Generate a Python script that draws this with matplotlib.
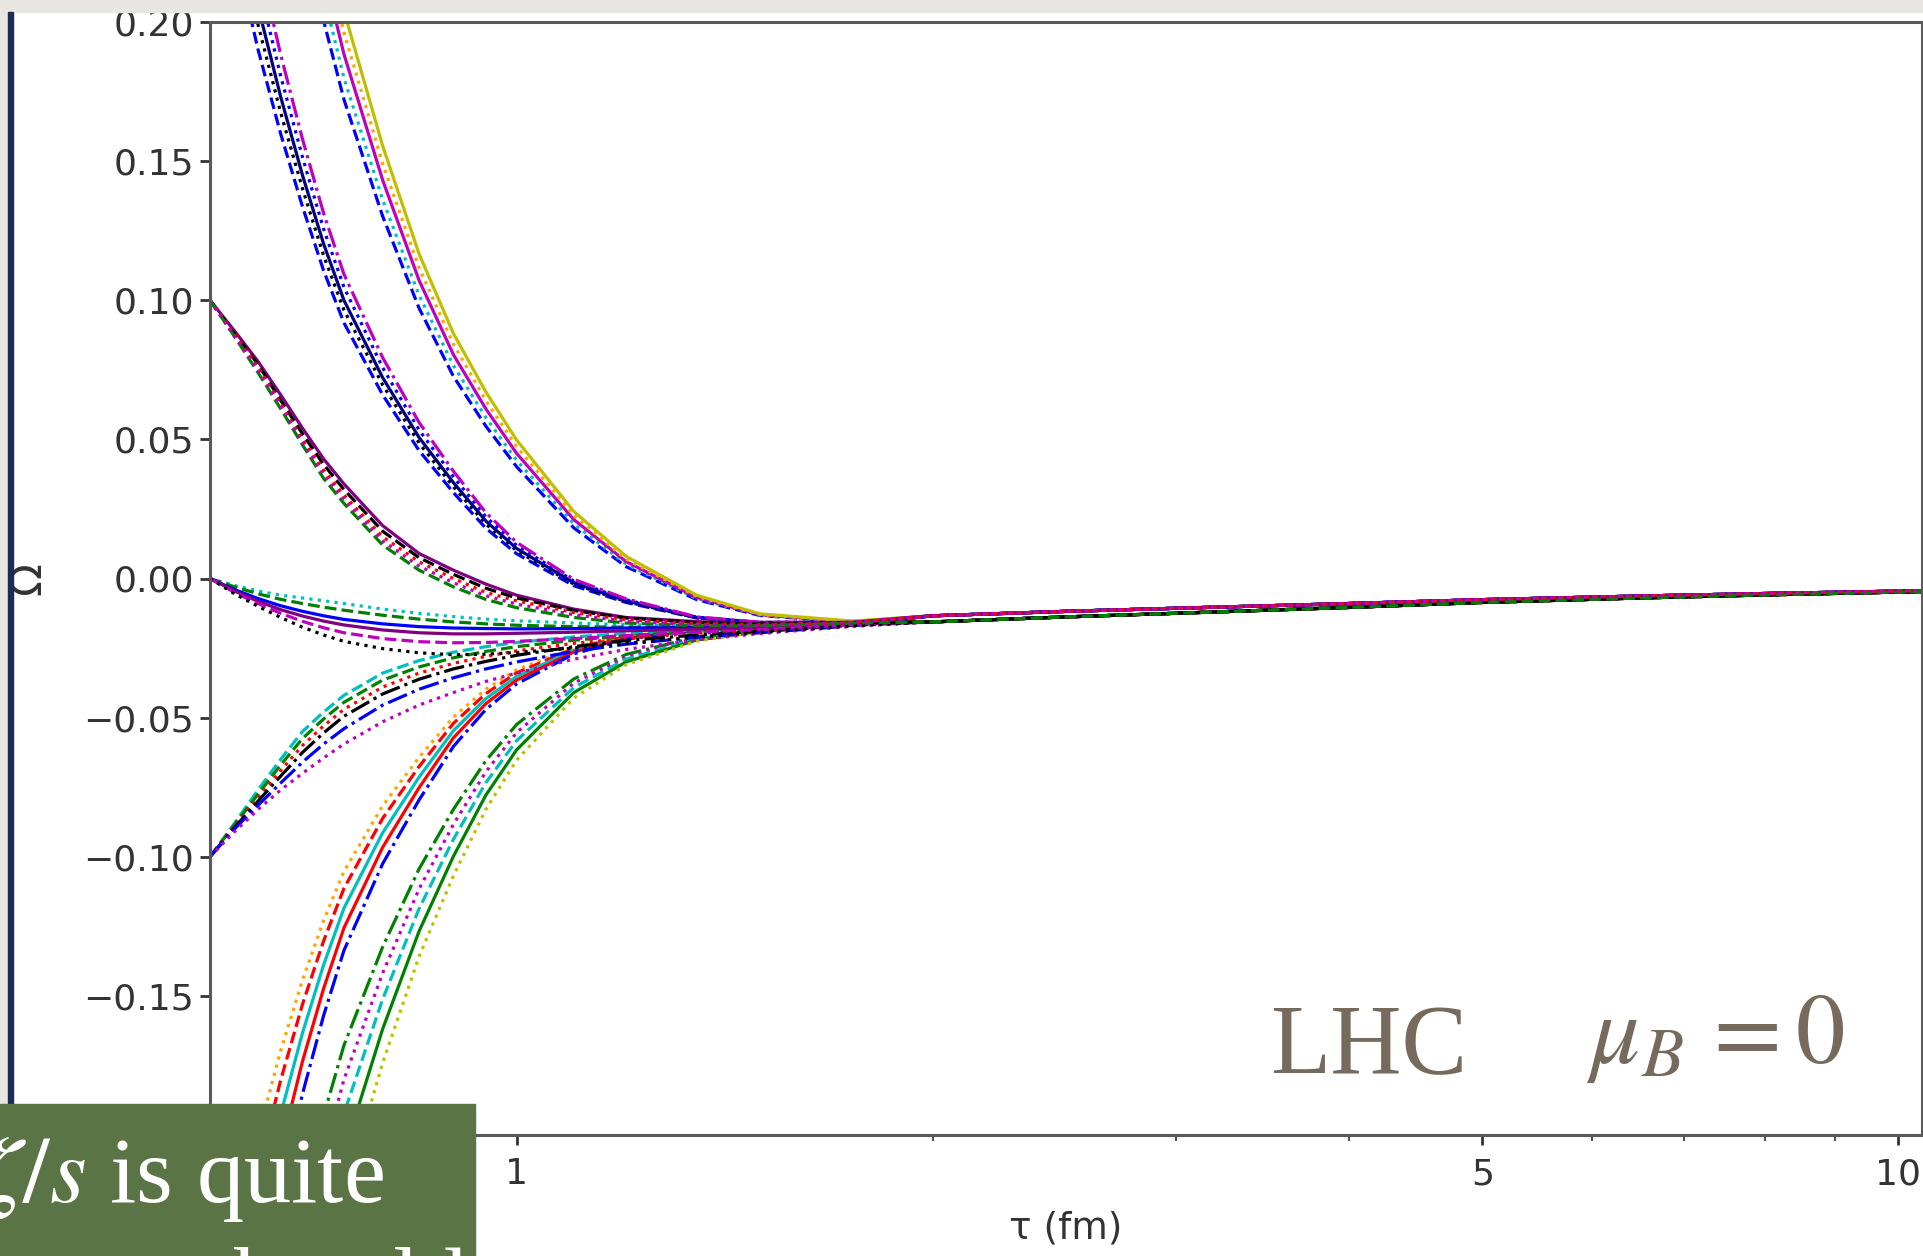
import numpy as np
import matplotlib.pyplot as plt
from matplotlib.patches import Rectangle
from matplotlib.ticker import NullFormatter

plt.rcParams['mathtext.fontset'] = 'stix'

# proper time grid (fm) and the late-time attractor (upper / lower edge of the bundle)
tau_early = [0.60, 0.625, 0.65, 0.675, 0.70, 0.725, 0.75, 0.80, 0.85, 0.90, 0.95, 1.00, 1.10, 1.20, 1.35, 1.50, 1.75]
tau_tail = [2.0, 2.5, 3.0, 4.0, 5.0, 6.5, 8.0, 10.4]
omega_tail_hi = [-0.0134, -0.0118, -0.0107, -0.0090, -0.0076, -0.0063, -0.0054, -0.0044]
omega_tail_lo = [-0.0156, -0.0138, -0.0125, -0.0104, -0.0086, -0.0070, -0.0059, -0.0047]

# start at Omega = 0.10
a_curves = [
    [0.100, 0.089, 0.078, 0.066, 0.054, 0.043, 0.034, 0.019, 0.009, 0.003, -0.002, -0.006, -0.011, -0.014, -0.0155, -0.0162, -0.0157],
    [0.100, 0.088, 0.077, 0.064, 0.052, 0.041, 0.032, 0.017, 0.0075, 0.0015, -0.0035, -0.007, -0.0115, -0.0142, -0.0158, -0.0164, -0.0158],
    [0.100, 0.088, 0.076, 0.063, 0.050, 0.039, 0.030, 0.015, 0.006, 0.000, -0.005, -0.008, -0.0122, -0.0148, -0.0162, -0.0166, -0.0158],
    [0.100, 0.087, 0.074, 0.061, 0.048, 0.036, 0.027, 0.012, 0.003, -0.003, -0.0075, -0.0105, -0.014, -0.016, -0.0170, -0.0170, -0.0160],
    [0.100, 0.087, 0.075, 0.062, 0.049, 0.0375, 0.0285, 0.0135, 0.0045, -0.0015, -0.0062, -0.0092, -0.013, -0.0154, -0.0166, -0.0168, -0.0159],
]
# large positive start, left bundle
b_curves = [
    [0.2694, 0.2268, 0.1901, 0.1598, 0.1336, 0.1107, 0.0919, 0.0660, 0.0460, 0.0309, 0.0181, 0.0089, -0.0026, -0.0086, -0.0142, -0.0159, -0.0158],
    [0.2818, 0.2373, 0.1990, 0.1674, 0.1401, 0.1161, 0.0965, 0.0696, 0.0487, 0.033, 0.0196, 0.010, -0.002, -0.0083, -0.0141, -0.0158, -0.0157],
    [0.2910, 0.2452, 0.2056, 0.1731, 0.1449, 0.1203, 0.1000, 0.0722, 0.0507, 0.0345, 0.0207, 0.0108, -0.0015, -0.008, -0.014, -0.0158, -0.0157],
    [0.3033, 0.2558, 0.2145, 0.1806, 0.1514, 0.1257, 0.1047, 0.0758, 0.0534, 0.0366, 0.0222, 0.0119, -0.0009, -0.0076, -0.0139, -0.0158, -0.0157],
    [0.3156, 0.2662, 0.2234, 0.1883, 0.1579, 0.1313, 0.1094, 0.0794, 0.0561, 0.0386, 0.0237, 0.013, -0.0003, -0.0073, -0.0138, -0.0157, -0.0157],
]
# large positive start, right bundle
c_curves = [
    [0.4147, 0.3597, 0.3112, 0.2692, 0.2320, 0.2005, 0.1722, 0.1302, 0.0972, 0.0727, 0.0548, 0.0402, 0.0182, 0.0043, -0.0076, -0.0133, -0.0156],
    [0.4328, 0.3760, 0.3253, 0.2814, 0.2427, 0.2100, 0.1799, 0.1361, 0.1018, 0.0766, 0.0579, 0.0425, 0.0196, 0.0052, -0.0072, -0.0132, -0.0155],
    [0.4517, 0.3915, 0.3390, 0.2935, 0.2530, 0.2186, 0.1885, 0.1432, 0.1072, 0.0805, 0.0610, 0.0450, 0.0212, 0.0061, -0.0068, -0.0130, -0.0155],
    [0.4698, 0.4078, 0.3528, 0.3055, 0.2638, 0.2281, 0.1963, 0.1491, 0.1117, 0.0843, 0.0640, 0.0474, 0.0226, 0.0070, -0.0064, -0.0129, -0.0154],
    [0.4878, 0.4242, 0.3674, 0.3175, 0.2745, 0.2376, 0.2040, 0.1555, 0.1167, 0.0881, 0.0671, 0.0498, 0.0241, 0.0080, -0.0060, -0.0127, -0.0153],
]
# start at Omega = 0
d_curves = [
    [0.0, -0.0025, -0.0045, -0.006, -0.007, -0.008, -0.009, -0.011, -0.0125, -0.0137, -0.0146, -0.0152, -0.0160, -0.0166, -0.0170, -0.0170, -0.0162],
    [0.0, -0.003, -0.0055, -0.0075, -0.009, -0.0103, -0.0114, -0.0132, -0.0146, -0.0156, -0.0163, -0.0168, -0.0173, -0.0175, -0.0175, -0.0172, -0.0162],
    [0.0, -0.004, -0.0072, -0.0098, -0.0118, -0.0134, -0.0147, -0.0163, -0.0173, -0.0178, -0.018, -0.0181, -0.018, -0.0178, -0.0176, -0.0173, -0.0162],
    [0.0, -0.0045, -0.0082, -0.0112, -0.0135, -0.0153, -0.0167, -0.0185, -0.0195, -0.0199, -0.0199, -0.0197, -0.0193, -0.0188, -0.0182, -0.0177, -0.0164],
    [0.0, -0.005, -0.009, -0.0125, -0.0154, -0.0177, -0.0195, -0.0216, -0.0227, -0.0231, -0.0230, -0.0226, -0.0216, -0.0205, -0.0193, -0.0184, -0.0166],
    [0.0, -0.0055, -0.010, -0.014, -0.0175, -0.0203, -0.0226, -0.0252, -0.0267, -0.0274, -0.0272, -0.0266, -0.025, -0.0233, -0.021, -0.0193, -0.0170],
]
# start at Omega = -0.10
e_curves = [
    [-0.100, -0.088, -0.076, -0.065, -0.055, -0.048, -0.042, -0.034, -0.0295, -0.0265, -0.0245, -0.023, -0.021, -0.0197, -0.0185, -0.0178, -0.0163],
    [-0.100, -0.0885, -0.0775, -0.067, -0.0575, -0.0505, -0.0445, -0.0365, -0.0318, -0.0285, -0.0262, -0.0245, -0.0222, -0.0206, -0.0191, -0.0182, -0.0165],
    [-0.100, -0.089, -0.079, -0.069, -0.060, -0.053, -0.047, -0.039, -0.034, -0.0305, -0.028, -0.026, -0.0233, -0.0215, -0.0197, -0.0186, -0.0167],
    [-0.100, -0.0895, -0.080, -0.071, -0.0625, -0.0555, -0.0495, -0.0415, -0.0362, -0.0325, -0.0298, -0.0276, -0.0245, -0.0223, -0.0203, -0.019, -0.0168],
    [-0.100, -0.090, -0.0815, -0.0735, -0.066, -0.0595, -0.054, -0.0455, -0.0398, -0.0357, -0.0325, -0.030, -0.0262, -0.0236, -0.0211, -0.0195, -0.0170],
    [-0.100, -0.091, -0.083, -0.076, -0.070, -0.0645, -0.0595, -0.0515, -0.0455, -0.041, -0.037, -0.034, -0.029, -0.0255, -0.022, -0.0198, -0.0172],
]
# large negative start, left bundle
fl_curves = [
    [-0.2807, -0.2371, -0.2002, -0.1697, -0.1443, -0.1230, -0.1053, -0.0817, -0.0643, -0.0498, -0.0398, -0.0328, -0.0247, -0.0207, -0.0182, -0.0174, -0.0160],
    [-0.2987, -0.2519, -0.2128, -0.1803, -0.1530, -0.1303, -0.1114, -0.0862, -0.0676, -0.0521, -0.0414, -0.0339, -0.0252, -0.0209, -0.0183, -0.0175, -0.0160],
    [-0.3203, -0.2699, -0.2276, -0.1925, -0.1633, -0.1389, -0.1185, -0.0914, -0.0714, -0.0547, -0.0432, -0.0352, -0.0258, -0.0212, -0.0184, -0.0175, -0.0160],
    [-0.3419, -0.2879, -0.2420, -0.2051, -0.1735, -0.1474, -0.1256, -0.0966, -0.0752, -0.0573, -0.045, -0.0365, -0.0264, -0.0215, -0.0185, -0.0175, -0.0160],
    [-0.3662, -0.3077, -0.2591, -0.2186, -0.1852, -0.1571, -0.1337, -0.1025, -0.0796, -0.0604, -0.0471, -0.0379, -0.0271, -0.0218, -0.0186, -0.0176, -0.0160],
]
# large negative start, right bundle
fr_curves = [
    [-0.3995, -0.3446, -0.2969, -0.2573, -0.2226, -0.1931, -0.1678, -0.1324, -0.1044, -0.083, -0.0655, -0.0525, -0.0361, -0.0273, -0.021, -0.0186, -0.0161],
    [-0.4301, -0.3707, -0.3203, -0.2762, -0.2393, -0.2074, -0.1801, -0.1418, -0.1116, -0.0884, -0.0695, -0.0554, -0.0376, -0.0282, -0.0214, -0.0188, -0.0162],
    [-0.4616, -0.3977, -0.3428, -0.2960, -0.2560, -0.2218, -0.1923, -0.1512, -0.1187, -0.0938, -0.0734, -0.0583, -0.0392, -0.029, -0.0217, -0.0189, -0.0162],
    [-0.4976, -0.4283, -0.3689, -0.3185, -0.2751, -0.2381, -0.2064, -0.1619, -0.1268, -0.0999, -0.0779, -0.0616, -0.041, -0.030, -0.0221, -0.0191, -0.0163],
    [-0.5372, -0.4625, -0.3982, -0.3437, -0.2967, -0.2566, -0.2221, -0.1741, -0.1359, -0.1069, -0.083, -0.0653, -0.043, -0.031, -0.0225, -0.0192, -0.0164],
]

a_styles = [("purple", "-"), ("k", "--"), ("r", ":"), ("g", "--"), ("m", ":")]
b_styles = [("b", "--"), ("k", ":"), ("navy", "-"), ("b", ":"), ("m", "-.")]
c_styles = [("b", "--"), ("c", ":"), ("m", "-"), ("orange", ":"), ("y", "-")]
d_styles = [("c", ":"), ("g", "--"), ("b", "-"), ("purple", "-"), ("m", "--"), ("k", ":")]
e_styles = [("c", "--"), ("g", "--"), ("r", ":"), ("k", "-."), ("b", "-."), ("m", ":")]
fl_styles = [("orange", ":"), ("r", "--"), ("c", "-"), ("r", "-"), ("b", "-.")]
fr_styles = [("g", "-."), ("m", ":"), ("c", "--"), ("g", "-"), ("y", ":")]

W, H = 1924, 1256
fig = plt.figure(figsize=(W / 100, H / 100), dpi=100)
fig.patch.set_facecolor("white")
ax = fig.add_axes([210 / W, 121 / H, 1712 / W, 1113 / H])

tau = tau_early + tau_tail
groups = [(b_curves, b_styles), (c_curves, c_styles), (fl_curves, fl_styles),
          (fr_curves, fr_styles), (e_curves, e_styles), (d_curves, d_styles),
          (a_curves, a_styles)]
for curves, styles in groups:
    for i, (vals, (col, ls)) in enumerate(zip(curves, styles)):
        tail = omega_tail_hi if i % 2 == 0 else omega_tail_lo
        ax.plot(tau, vals + tail, color=col, ls=ls, lw=2.3)

ax.set_xscale("log")
ax.set_xlim(0.6, 10.4)
ax.set_ylim(-0.2, 0.2)
ax.set_xticks([1, 5, 10])
ax.set_xticklabels(["1", "5", "10"])
ax.xaxis.set_minor_formatter(NullFormatter())
ax.set_yticks([-0.15, -0.10, -0.05, 0.00, 0.05, 0.10, 0.15, 0.20])

for sp in ax.spines.values():
    sp.set_color("#5a5a5a")
    sp.set_linewidth(2.2)
ax.tick_params(axis="both", which="major", labelsize=26, colors="#333333", width=2, length=7)
ax.tick_params(axis="x", which="major", pad=9)
ax.tick_params(axis="y", which="major", pad=4.5)
ax.tick_params(axis="x", which="minor", width=1.5, length=4, colors="#555555")

ax.set_ylabel("Ω", fontsize=31, color="#333333")
ax.yaxis.set_label_coords(-0.094, 0.5)
ax.set_xlabel("τ (fm)", fontsize=27, color="#333333")
ax.xaxis.set_label_coords(0.5, -0.068)

# slide decorations around the pasted plot
bg = "#e7e6e1"
fig.add_artist(Rectangle((0, 1 - 12 / H), 1, 12 / H, transform=fig.transFigure, color=bg, zorder=20))
fig.add_artist(Rectangle((0, 0), 8 / W, 1, transform=fig.transFigure, color=bg, zorder=20))
fig.add_artist(Rectangle((8 / W, 0), 5 / W, 1 - 12 / H, transform=fig.transFigure, color="#1d2c55", zorder=21))
fig.add_artist(Rectangle((0, 0), 475 / W, 152 / H, transform=fig.transFigure, color="#5a7446", zorder=22))

fig.text(-20 / W, 1 - 1202 / H, r"$\zeta/s$ is quite", fontsize=68, color="white",
         family="Liberation Serif", va="baseline", zorder=23)
fig.text(207 / W, 1 - 1312 / H, "the old", fontsize=68, color="white",
         family="Liberation Serif", va="baseline", zorder=23)

fig.text(1270 / W, 1 - 1073 / H, "LHC", fontsize=71, color="#766a5c",
         family="Liberation Serif", va="baseline", zorder=23)
fig.text(1586 / W, 1 - 1063 / H, r"$\mu_B\,=0$", fontsize=71, color="#766a5c",
         family="Liberation Serif", va="baseline", zorder=23)

fig.savefig("out.png", dpi=100)
